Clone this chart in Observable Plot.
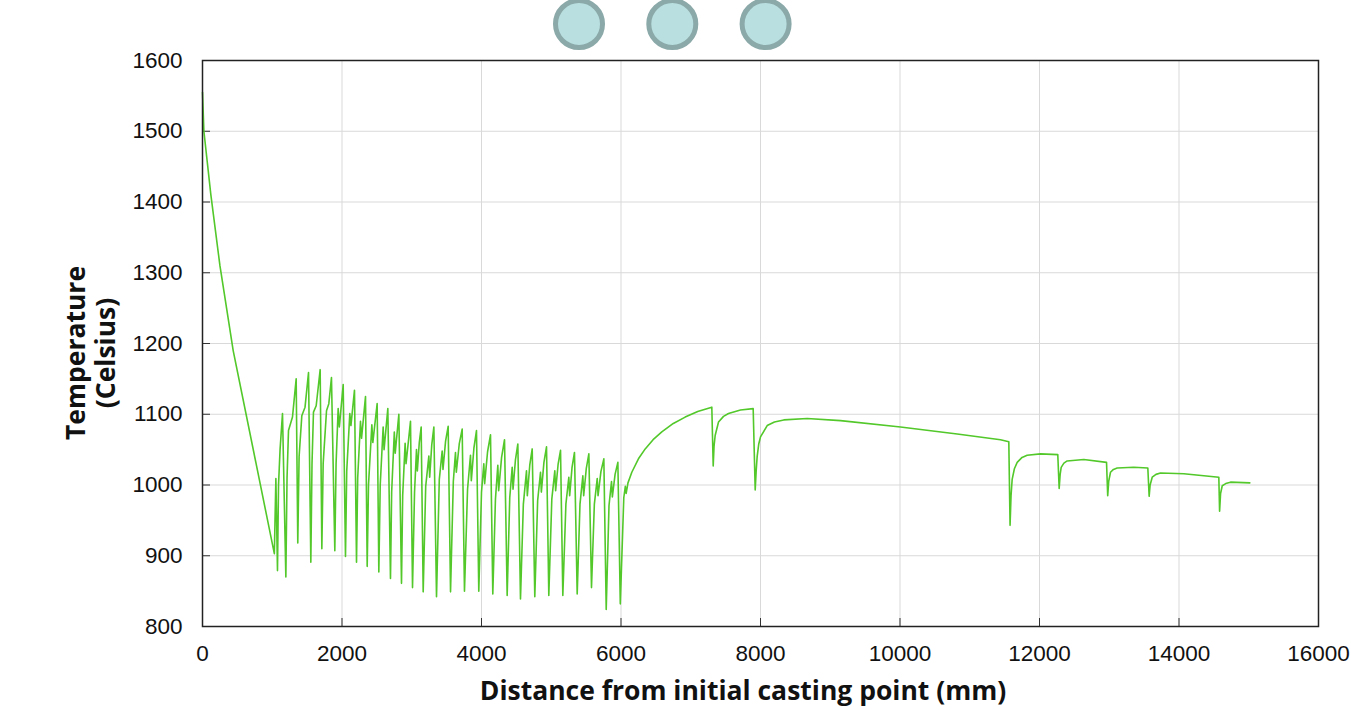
<!DOCTYPE html>
<html><head><meta charset="utf-8">
<script src="https://cdn.jsdelivr.net/npm/d3@7"></script>
<script src="https://cdn.jsdelivr.net/npm/@observablehq/plot@0.6"></script>
<style>
html,body{margin:0;padding:0;background:#fff;}
#wrap{position:relative;width:1351px;height:710px;overflow:hidden;}
#dots{position:absolute;left:0;top:0;}
</style></head><body>
<div id="wrap"><div id="chart"></div><svg id="dots" width="1351" height="60"></svg></div>
<script>
const distance = [
0,20,120,250,440,1030,1052,1075,
1090,1112,1147,1195, 1212,1233,1290,1343,1366, 1385,1424,1470,1520,1553,
1570,1591,1630,1687,1711, 1730,1778,1811,1849,1897, 1915,1945,1962,2017,2050,
2068,2112,2128,2179,2208, 2225,2265,2280,2337,2361, 2380,2428,2442,2504,2528,
2548,2590,2603,2657,2695, 2712,2750,2763,2815,2853, 2870,2905,2918,2982,3011,
3040,3068,3080,3108,3135,3164, 3200,3245,3257,3287,3317,3355,
3395,3436,3448,3485,3522,3556, 3596,3627,3639,3681,3723,3756,
3800,3842,3854,3891,3928,3961, 4000,4033,4045,4087,4129,4162,
4200,4234,4246,4288,4330,4368, 4405,4440,4452,4487,4521,4559,
4600,4645,4657,4692,4727,4764, 4805,4846,4858,4895,4932,4965,
5008,5051,5063,5098,5133,5166, 5210,5252,5264,5298,5333,5372,
5412,5453,5465,5502,5539,5577, 5618,5659,5671,5712,5754,5788,
5828,5864,5876,5915,5955,5990,
6040,6062,6074,6100,6155,6250,6347,6460,6585,6750,6920,7100,7302,
7322,7334,7350,7398,7470,7541,7713,7895,
7924,7938,7952,7975,8000,8096,8200,8334,8669,9147,10007,10820,11441,11560,
11578,11592,11608,11640,11680,11750,11823,12014,12262,
12282,12296,12311,12350,12397,12635,12961,
12978,12992,13018,13060,13114,13352,13553,
13572,13586,13616,13670,13735,14069,14571,
14582,14596,14620,14670,14738,15015
];
const temperature = [
1555,1500,1410,1310,1190,903,1009,879,
1000,1050,1101,870, 1010,1077,1096,1150,918, 1040,1098,1110,1159,891,
1030,1103,1112,1163,910, 1030,1105,1115,1152,907, 1030,1108,1082,1142,899,
1020,1101,1084,1134,891, 1010,1090,1066,1125,885, 1000,1085,1060,1115,877,
1000,1082,1050,1108,868, 990,1075,1045,1100,861, 985,1059,1030,1090,855,
990,1050,1020,1060,1082,849, 998,1041,1011,1057,1082,842,
1008,1048,1022,1062,1083,849, 1005,1046,1018,1058,1079,850,
994,1042,1006,1052,1077,850, 990,1030,1002,1047,1071,846,
980,1028,992,1039,1064,844, 982,1025,994,1036,1058,839,
973,1020,985,1028,1051,842, 978,1018,990,1032,1054,844,
980,1020,992,1029,1049,844, 973,1011,985,1025,1046,846,
973,1013,985,1023,1044,855, 973,1009,985,1019,1037,824,
971,1005,983,1015,1032,832,
982,998,988,1003,1018,1037,1051,1064,1075,1087,1096,1104,1110,
1027,1055,1070,1089,1097,1101,1106,1108,
993,1020,1040,1058,1068,1084,1089,1092,1094,1091,1082,1072,1064,1061,
943,985,1008,1023,1032,1039,1042,1044,1043,
995,1015,1025,1031,1034,1036,1032,
985,1005,1018,1022,1024,1025,1024,
984,1000,1011,1015,1017,1016,1011,
963,988,999,1002,1004,1003
];
const xTicks = [0,2000,4000,6000,8000,10000,12000,14000,16000];
const yTicks = [800,900,1000,1100,1200,1300,1400,1500,1600];
const xTitle = "Distance from initial casting point (mm)";
const yTitleLines = ["Temperature", "(Celsius)"];
const markerCount = [1,2,3];

const data = distance.map((d,i) => ({d, t: temperature[i]}));
const fmt = d => String(d);

const plot = Plot.plot({
  width: 1351, height: 710,
  marginLeft: 202, marginRight: 33, marginTop: 60, marginBottom: 84,
  x: {domain: [0,16000]},
  y: {domain: [800,1600]},
  style: {fontFamily: "'Liberation Sans', Arial, sans-serif", fontSize: "22px", color: "#111", background: "white", overflow: "visible"},
  marks: [
    Plot.gridX(xTicks, {stroke: "#d9d9d9", strokeOpacity: 1, strokeWidth: 1}),
    Plot.gridY(yTicks, {stroke: "#d9d9d9", strokeOpacity: 1, strokeWidth: 1}),
    Plot.axisX(xTicks, {tickSize: 0, tickPadding: 19, label: null, tickFormat: fmt, fontSize: 22.5}),
    Plot.axisY(yTicks, {tickSize: 0, tickPadding: 20, label: null, tickFormat: fmt, fontSize: 22.5}),
    Plot.axisX(xTicks, {tickSize: 8, dy: -8, label: null, tickFormat: () => "", stroke: "#333"}),
    Plot.axisY(yTicks, {tickSize: 8, dx: 8, label: null, tickFormat: () => "", stroke: "#333"}),
    Plot.line(data, {x: "d", y: "t", stroke: "#52c82a", strokeWidth: 1.6}),
    Plot.frame({stroke: "#222", strokeWidth: 1.5})
  ]
});
document.getElementById("chart").appendChild(plot);

const svg = d3.select(plot);
svg.append("text")
  .attr("x", 743).attr("y", 700)
  .attr("text-anchor", "middle")
  .style("font-family", "'Open Sans', sans-serif").style("font-weight", "700").style("font-size", "26.5px").attr("fill", "#111")
  .text(xTitle);
const yt = svg.append("text")
  .attr("transform", "translate(85,353) rotate(-90)")
  .attr("text-anchor", "middle")
  .style("font-family", "'Open Sans', sans-serif").style("font-weight", "700").style("font-size", "26.5px").attr("fill", "#111");
yt.selectAll("tspan").data(yTitleLines).join("tspan")
  .attr("x", 0).attr("dy", (d,i) => i === 0 ? 0 : 30).text(d => d);

const dots = d3.select("#dots");
dots.selectAll("circle").data(markerCount).join("circle")
  .attr("cx", (d,i) => 579 + i*93.3).attr("cy", 24).attr("r", 23.5)
  .attr("fill", "#b9dfe0").attr("stroke", "#8aa9a8").attr("stroke-width", 5);
</script>
</body></html>
